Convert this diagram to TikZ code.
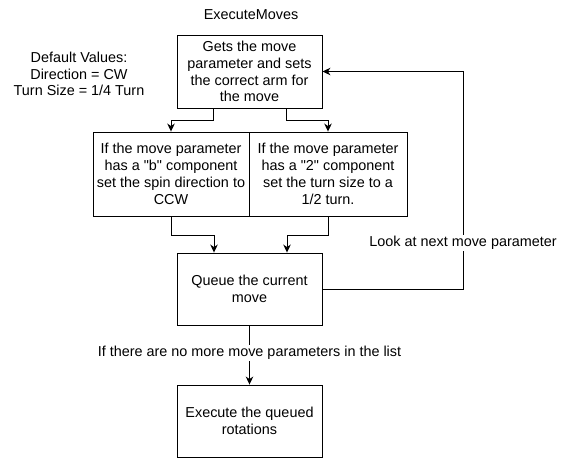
\documentclass[tikz,border=0pt]{standalone}
\usepackage{fontspec}
\setmainfont{Liberation Sans}
\usetikzlibrary{arrows.meta,calc}
\begin{document}
\begin{tikzpicture}[x=1pt,y=-1pt,
  txt/.style={font=\fontsize{14.4}{16.8}\selectfont, align=center, inner sep=0pt},
  box/.style={txt, draw, line width=0.9pt, minimum width=145pt, minimum height=73pt},
  lbl/.style={txt, fill=white, inner sep=1pt},
  conn/.style={line width=0.9pt, -{Stealth[length=8pt,width=7.5pt,inset=2.5pt]}},
  plain/.style={line width=0.9pt}]
\useasboundingbox (0,0) rectangle (562,458);
\node[txt] (title) at (251,15) {ExecuteMoves};
\node[txt] (defaults) at (79,74) {Default Values:\\Direction = CW\\Turn Size = 1/4 Turn};
\node[box] (top) at (249.5,71.5) {Gets the move\\parameter and sets\\the correct arm for\\the move};
\node[box, minimum width=156pt, minimum height=84pt] (left) at (171,174) {If the move parameter\\has a \textquotedbl b\textquotedbl{} component\\set the spin direction to\\CCW};
\node[box, minimum width=158pt, minimum height=84pt] (right) at (328,174) {If the move parameter\\has a \textquotedbl 2\textquotedbl{} component\\set the turn size to a\\1/2 turn.};
\node[box, minimum height=72pt] (queue) at (249.5,289) {Queue the current\\move};
\node[box, minimum height=72pt] (exec) at (249.5,421) {Execute the queued\\rotations};
\draw[conn] ([xshift=-36.5pt]top.south) -- ++(0,12) -| (left.north);
\draw[conn] ([xshift=36.5pt]top.south) -- ++(0,12) -| (right.north);
\draw[conn] (left.south) -- ++(0,19) -| ([xshift=-35.5pt]queue.north);
\draw[conn] (right.south) -- ++(0,19) -| ([xshift=37.5pt]queue.north);
\coordinate (loopc) at (463,71.5);
\draw[conn] (queue.east) -| (loopc) -- (top.east);
\node[lbl] (looklbl) at (463,243) {Look at next move parameter};
\draw[conn] (queue.south) -- (exec.north);
\node[lbl] (endlbl) at (249.5,353) {If there are no more move parameters in the list};
\end{tikzpicture}
\end{document}
